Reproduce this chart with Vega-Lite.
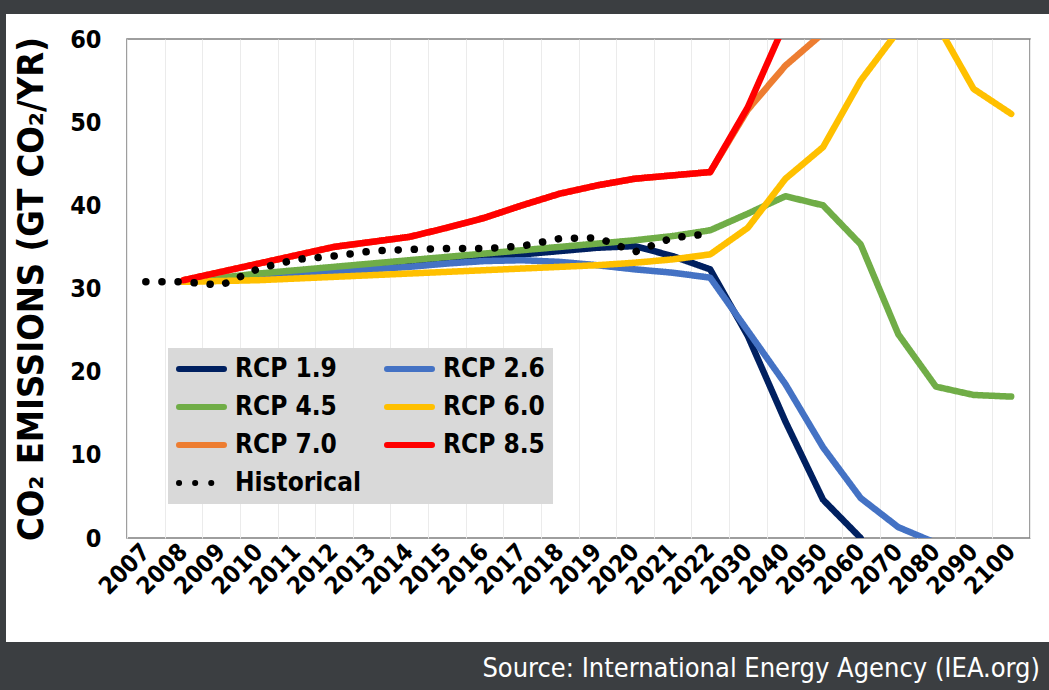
{
  "$schema": "https://vega.github.io/schema/vega-lite/v6.json",
  "padding": 0,
  "background": "white",
  "spacing": 0,
  "config": {
    "view": {"stroke": null},
    "font": "DejaVu Sans Condensed"
  },
  "hconcat": [
    {
      "width": 6,
      "height": 690,
      "view": {"fill": "#3b3e41", "stroke": null},
      "data": {"values": [{}]},
      "mark": {"type": "point", "opacity": 0}
    },
    {
      "concat": [
        {
          "width": 1043,
          "height": 14,
          "view": {"fill": "#3b3e41", "stroke": null},
          "data": {"values": [{}]},
          "mark": {"type": "point", "opacity": 0}
        },
        {
          "concat": [
            {
              "hconcat": [
                {
                  "width": 6,
                  "height": 499,
                  "data": {"values": [{}]},
                  "mark": {"type": "point", "opacity": 0}
                },
                {
                  "width": 903,
                  "height": 499,
                  "view": {"stroke": "#7f7f7f", "strokeWidth": 1.5},
                  "data": {
                    "values": [
                      {"series": "RCP 1.9", "year": "2008", "value": 30.8},
                      {"series": "RCP 1.9", "year": "2009", "value": 31.2},
                      {"series": "RCP 1.9", "year": "2010", "value": 31.7},
                      {"series": "RCP 1.9", "year": "2011", "value": 32.1},
                      {"series": "RCP 1.9", "year": "2012", "value": 32.5},
                      {"series": "RCP 1.9", "year": "2013", "value": 32.9},
                      {"series": "RCP 1.9", "year": "2014", "value": 33.2},
                      {"series": "RCP 1.9", "year": "2015", "value": 33.5},
                      {"series": "RCP 1.9", "year": "2016", "value": 33.8},
                      {"series": "RCP 1.9", "year": "2017", "value": 34.1},
                      {"series": "RCP 1.9", "year": "2018", "value": 34.5},
                      {"series": "RCP 1.9", "year": "2019", "value": 34.9},
                      {"series": "RCP 1.9", "year": "2020", "value": 35.1},
                      {"series": "RCP 1.9", "year": "2021", "value": 33.9},
                      {"series": "RCP 1.9", "year": "2022", "value": 32.3},
                      {"series": "RCP 1.9", "year": "2030", "value": 24.3},
                      {"series": "RCP 1.9", "year": "2040", "value": 14.0},
                      {"series": "RCP 1.9", "year": "2050", "value": 4.6},
                      {"series": "RCP 1.9", "year": "2060", "value": 0},
                      {"series": "RCP 2.6", "year": "2008", "value": 30.8},
                      {"series": "RCP 2.6", "year": "2009", "value": 31.1},
                      {"series": "RCP 2.6", "year": "2010", "value": 31.4},
                      {"series": "RCP 2.6", "year": "2011", "value": 31.7},
                      {"series": "RCP 2.6", "year": "2012", "value": 32.0},
                      {"series": "RCP 2.6", "year": "2013", "value": 32.3},
                      {"series": "RCP 2.6", "year": "2014", "value": 32.6},
                      {"series": "RCP 2.6", "year": "2015", "value": 33.0},
                      {"series": "RCP 2.6", "year": "2016", "value": 33.3},
                      {"series": "RCP 2.6", "year": "2017", "value": 33.4},
                      {"series": "RCP 2.6", "year": "2018", "value": 33.2},
                      {"series": "RCP 2.6", "year": "2019", "value": 32.8},
                      {"series": "RCP 2.6", "year": "2020", "value": 32.3},
                      {"series": "RCP 2.6", "year": "2021", "value": 31.9},
                      {"series": "RCP 2.6", "year": "2022", "value": 31.3},
                      {"series": "RCP 2.6", "year": "2030", "value": 24.9},
                      {"series": "RCP 2.6", "year": "2040", "value": 18.5},
                      {"series": "RCP 2.6", "year": "2050", "value": 10.9},
                      {"series": "RCP 2.6", "year": "2060", "value": 4.8},
                      {"series": "RCP 2.6", "year": "2070", "value": 1.3},
                      {"series": "RCP 2.6", "year": "2080", "value": -0.6},
                      {"series": "RCP 4.5", "year": "2008", "value": 30.8},
                      {"series": "RCP 4.5", "year": "2009", "value": 31.3},
                      {"series": "RCP 4.5", "year": "2010", "value": 31.8},
                      {"series": "RCP 4.5", "year": "2011", "value": 32.2},
                      {"series": "RCP 4.5", "year": "2012", "value": 32.6},
                      {"series": "RCP 4.5", "year": "2013", "value": 33.0},
                      {"series": "RCP 4.5", "year": "2014", "value": 33.4},
                      {"series": "RCP 4.5", "year": "2015", "value": 33.8},
                      {"series": "RCP 4.5", "year": "2016", "value": 34.2},
                      {"series": "RCP 4.5", "year": "2017", "value": 34.6},
                      {"series": "RCP 4.5", "year": "2018", "value": 35.0},
                      {"series": "RCP 4.5", "year": "2019", "value": 35.4},
                      {"series": "RCP 4.5", "year": "2020", "value": 35.8},
                      {"series": "RCP 4.5", "year": "2021", "value": 36.3},
                      {"series": "RCP 4.5", "year": "2022", "value": 37.0},
                      {"series": "RCP 4.5", "year": "2030", "value": 39.0},
                      {"series": "RCP 4.5", "year": "2040", "value": 41.1},
                      {"series": "RCP 4.5", "year": "2050", "value": 40.0},
                      {"series": "RCP 4.5", "year": "2060", "value": 35.3},
                      {"series": "RCP 4.5", "year": "2070", "value": 24.5},
                      {"series": "RCP 4.5", "year": "2080", "value": 18.2},
                      {"series": "RCP 4.5", "year": "2090", "value": 17.2},
                      {"series": "RCP 4.5", "year": "2100", "value": 17.0},
                      {"series": "RCP 6.0", "year": "2008", "value": 30.8},
                      {"series": "RCP 6.0", "year": "2009", "value": 30.9},
                      {"series": "RCP 6.0", "year": "2010", "value": 31.0},
                      {"series": "RCP 6.0", "year": "2011", "value": 31.2},
                      {"series": "RCP 6.0", "year": "2012", "value": 31.4},
                      {"series": "RCP 6.0", "year": "2013", "value": 31.6},
                      {"series": "RCP 6.0", "year": "2014", "value": 31.8},
                      {"series": "RCP 6.0", "year": "2015", "value": 32.0},
                      {"series": "RCP 6.0", "year": "2016", "value": 32.2},
                      {"series": "RCP 6.0", "year": "2017", "value": 32.4},
                      {"series": "RCP 6.0", "year": "2018", "value": 32.6},
                      {"series": "RCP 6.0", "year": "2019", "value": 32.8},
                      {"series": "RCP 6.0", "year": "2020", "value": 33.1},
                      {"series": "RCP 6.0", "year": "2021", "value": 33.5},
                      {"series": "RCP 6.0", "year": "2022", "value": 34.1},
                      {"series": "RCP 6.0", "year": "2030", "value": 37.3},
                      {"series": "RCP 6.0", "year": "2040", "value": 43.2},
                      {"series": "RCP 6.0", "year": "2050", "value": 47.0},
                      {"series": "RCP 6.0", "year": "2060", "value": 55.0},
                      {"series": "RCP 6.0", "year": "2070", "value": 61.0},
                      {"series": "RCP 6.0", "year": "2080", "value": 62.0},
                      {"series": "RCP 6.0", "year": "2090", "value": 54.0},
                      {"series": "RCP 6.0", "year": "2100", "value": 51.0},
                      {"series": "RCP 7.0", "year": "2008", "value": 31.0},
                      {"series": "RCP 7.0", "year": "2009", "value": 32.0},
                      {"series": "RCP 7.0", "year": "2010", "value": 33.0},
                      {"series": "RCP 7.0", "year": "2011", "value": 34.0},
                      {"series": "RCP 7.0", "year": "2012", "value": 35.0},
                      {"series": "RCP 7.0", "year": "2013", "value": 35.6},
                      {"series": "RCP 7.0", "year": "2014", "value": 36.2},
                      {"series": "RCP 7.0", "year": "2015", "value": 37.3},
                      {"series": "RCP 7.0", "year": "2016", "value": 38.5},
                      {"series": "RCP 7.0", "year": "2017", "value": 40.0},
                      {"series": "RCP 7.0", "year": "2018", "value": 41.4},
                      {"series": "RCP 7.0", "year": "2019", "value": 42.4},
                      {"series": "RCP 7.0", "year": "2020", "value": 43.2},
                      {"series": "RCP 7.0", "year": "2021", "value": 43.6},
                      {"series": "RCP 7.0", "year": "2022", "value": 44.0},
                      {"series": "RCP 7.0", "year": "2030", "value": 51.5},
                      {"series": "RCP 7.0", "year": "2040", "value": 56.8},
                      {"series": "RCP 7.0", "year": "2050", "value": 60.7},
                      {"series": "RCP 7.0", "year": "2060", "value": 64.0},
                      {"series": "RCP 7.0", "year": "2070", "value": 67.0},
                      {"series": "RCP 7.0", "year": "2080", "value": 69.0},
                      {"series": "RCP 7.0", "year": "2090", "value": 70.0},
                      {"series": "RCP 7.0", "year": "2100", "value": 71.0},
                      {"series": "RCP 8.5", "year": "2008", "value": 31.0},
                      {"series": "RCP 8.5", "year": "2009", "value": 32.0},
                      {"series": "RCP 8.5", "year": "2010", "value": 33.0},
                      {"series": "RCP 8.5", "year": "2011", "value": 34.0},
                      {"series": "RCP 8.5", "year": "2012", "value": 35.0},
                      {"series": "RCP 8.5", "year": "2013", "value": 35.6},
                      {"series": "RCP 8.5", "year": "2014", "value": 36.2},
                      {"series": "RCP 8.5", "year": "2015", "value": 37.3},
                      {"series": "RCP 8.5", "year": "2016", "value": 38.5},
                      {"series": "RCP 8.5", "year": "2017", "value": 40.0},
                      {"series": "RCP 8.5", "year": "2018", "value": 41.4},
                      {"series": "RCP 8.5", "year": "2019", "value": 42.4},
                      {"series": "RCP 8.5", "year": "2020", "value": 43.2},
                      {"series": "RCP 8.5", "year": "2021", "value": 43.6},
                      {"series": "RCP 8.5", "year": "2022", "value": 44.0},
                      {"series": "RCP 8.5", "year": "2030", "value": 51.8},
                      {"series": "RCP 8.5", "year": "2040", "value": 62.0},
                      {"series": "RCP 8.5", "year": "2050", "value": 72.0},
                      {"series": "RCP 8.5", "year": "2060", "value": 82.0},
                      {"series": "RCP 8.5", "year": "2070", "value": 92.0},
                      {"series": "RCP 8.5", "year": "2080", "value": 100.0},
                      {"series": "RCP 8.5", "year": "2090", "value": 106.0},
                      {"series": "RCP 8.5", "year": "2100", "value": 110.0},
                      {"series": "Historical", "year": "2007", "value": 30.8},
                      {"series": "Historical", "year": "2008", "value": 30.8},
                      {"series": "Historical", "year": "2009", "value": 30.4},
                      {"series": "Historical", "year": "2010", "value": 32.4},
                      {"series": "Historical", "year": "2011", "value": 33.5},
                      {"series": "Historical", "year": "2012", "value": 33.9},
                      {"series": "Historical", "year": "2013", "value": 34.5},
                      {"series": "Historical", "year": "2014", "value": 34.7},
                      {"series": "Historical", "year": "2015", "value": 34.8},
                      {"series": "Historical", "year": "2016", "value": 34.8},
                      {"series": "Historical", "year": "2017", "value": 35.1},
                      {"series": "Historical", "year": "2018", "value": 36.0},
                      {"series": "Historical", "year": "2019", "value": 36.1},
                      {"series": "Historical", "year": "2020", "value": 34.4},
                      {"series": "Historical", "year": "2021", "value": 36.1},
                      {"series": "Historical", "year": "2022", "value": 36.6}
                    ]
                  },
                  "encoding": {
                    "x": {
                      "field": "year",
                      "type": "ordinal",
                      "bandPosition": 0.5,
                      "scale": {"type": "band", "paddingInner": 0, "paddingOuter": 0},
                      "axis": {
                        "title": null,
                        "labelAngle": -45,
                        "labelAlign": "right",
                        "labelBaseline": "middle",
                        "labelFontSize": 24,
                        "labelFontWeight": "bold",
                        "labelColor": "#000000",
                        "labelPadding": 10,
                        "tickBand": "extent",
                        "ticks": false,
                        "domain": false,
                        "grid": true,
                        "gridColor": "#ebebeb",
                        "gridWidth": 1
                      }
                    },
                    "y": {
                      "field": "value",
                      "type": "quantitative",
                      "scale": {"domain": [0, 60], "nice": false, "zero": true},
                      "axis": {
                        "values": [0, 10, 20, 30, 40, 50, 60],
                        "grid": false,
                        "ticks": false,
                        "domain": false,
                        "labelFontSize": 25,
                        "labelFontWeight": "bold",
                        "labelColor": "#000000",
                        "labelPadding": 26,
                        "title": "CO₂ EMISSIONS (GT CO₂/YR)",
                        "titleFontSize": 36,
                        "titleFontWeight": "bold",
                        "titleColor": "#000000",
                        "titlePadding": 19
                      }
                    },
                    "color": {
                      "field": "series",
                      "type": "nominal",
                      "scale": {
                        "domain": ["RCP 1.9", "RCP 2.6", "RCP 4.5", "RCP 6.0", "RCP 7.0", "RCP 8.5", "Historical"],
                        "range": ["#002060", "#4472C4", "#70AD47", "#FFC000", "#ED7D31", "#FF0000", "#000000"]
                      },
                      "legend": {
                        "title": null,
                        "orient": "none",
                        "legendX": 168,
                        "legendY": 348,
                        "direction": "horizontal",
                        "columns": 2,
                        "fillColor": "#d9d9d9",
                        "padding": 8,
                        "labelFontSize": 26,
                        "labelFontWeight": "bold",
                        "labelColor": "#000000",
                        "labelOffset": 8,
                        "labelLimit": 300,
                        "symbolType": "stroke",
                        "symbolSize": 2025,
                        "symbolStrokeWidth": 6,
                        "clipHeight": 26,
                        "columnPadding": 23,
                        "rowPadding": 12,
                        "encode": {"symbols": {"update": {"strokeCap": {"value": "round"}}}}
                      }
                    },
                    "strokeDash": {
                      "field": "series",
                      "type": "nominal",
                      "scale": {
                        "domain": ["RCP 1.9", "RCP 2.6", "RCP 4.5", "RCP 6.0", "RCP 7.0", "RCP 8.5", "Historical"],
                        "range": [[1, 0], [1, 0], [1, 0], [1, 0], [1, 0], [1, 0], [0.1, 16]]
                      },
                      "legend": {
                        "title": null,
                        "orient": "none",
                        "legendX": 168,
                        "legendY": 348,
                        "direction": "horizontal",
                        "columns": 2,
                        "fillColor": "#d9d9d9",
                        "padding": 8,
                        "labelFontSize": 26,
                        "labelFontWeight": "bold",
                        "labelColor": "#000000",
                        "labelOffset": 8,
                        "labelLimit": 300,
                        "symbolType": "stroke",
                        "symbolSize": 2025,
                        "symbolStrokeWidth": 6,
                        "clipHeight": 26,
                        "columnPadding": 23,
                        "rowPadding": 12,
                        "encode": {"symbols": {"update": {"strokeCap": {"value": "round"}}}}
                      }
                    }
                  },
                  "layer": [
                    {
                      "transform": [{"filter": "datum.series !== 'Historical'"}],
                      "mark": {"type": "line", "strokeWidth": 6.5, "clip": true, "strokeCap": "round", "strokeJoin": "round"}
                    },
                    {
                      "transform": [{"filter": "datum.series === 'Historical'"}],
                      "mark": {"type": "line", "strokeWidth": 7.5, "clip": true, "strokeCap": "round"}
                    }
                  ]
                }
              ],
              "spacing": 0
            },
            {
              "width": 1043,
              "height": 49,
              "view": {"fill": "#3b3e41", "stroke": null},
              "title": {
                "text": "Source: International Energy Agency (IEA.org)",
                "orient": "bottom",
                "anchor": "end",
                "baseline": "alphabetic",
                "offset": -14,
                "dx": -9,
                "color": "#ffffff",
                "fontSize": 27,
                "fontWeight": "normal",
                "font": "DejaVu Sans Condensed"
              },
              "data": {"values": [{}]},
              "mark": {"type": "point", "opacity": 0}
            }
          ],
          "columns": 1,
          "spacing": 42
        }
      ],
      "columns": 1,
      "spacing": 12
    }
  ]
}
